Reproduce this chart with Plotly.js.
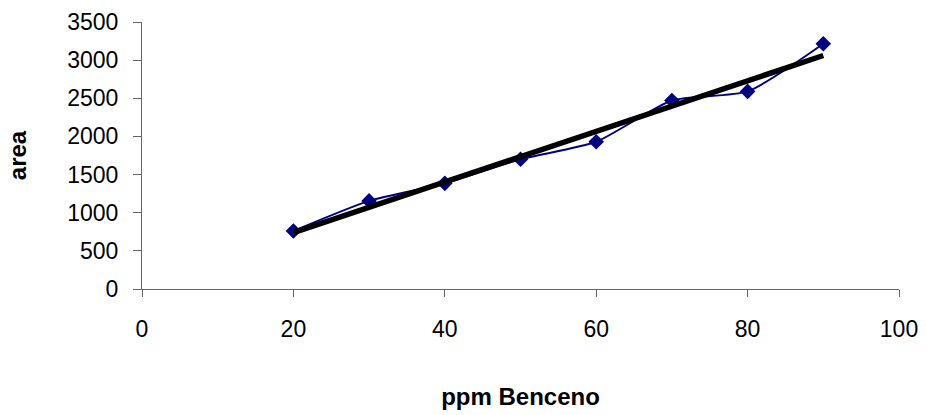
<!DOCTYPE html>
<html>
<head>
<meta charset="utf-8">
<script src="https://cdn.plot.ly/plotly-3.0.1.min.js"></script>
<style>html,body{margin:0;padding:0;background:#fff;}#chart{width:926px;height:415px;}</style>
</head>
<body>
<div id="chart"></div>
<script>
const ppm = [20, 30, 40, 50, 60, 70, 80, 90];
const area = [760, 1155, 1385, 1700, 1930, 2470, 2590, 3215];
const xTicks = [0, 20, 40, 60, 80, 100];
const yTicks = [0, 500, 1000, 1500, 2000, 2500, 3000, 3500];

// linear least-squares trendline computed from the data
const n = ppm.length;
const mx = ppm.reduce((a, b) => a + b, 0) / n;
const my = area.reduce((a, b) => a + b, 0) / n;
let sxy = 0, sxx = 0;
for (let i = 0; i < n; i++) { sxy += (ppm[i] - mx) * (area[i] - my); sxx += (ppm[i] - mx) ** 2; }
const slope = sxy / sxx, intercept = my - slope * mx;
const trendX = [ppm[0], ppm[n - 1]];
const trendY = trendX.map(x => intercept + slope * x);

const font = "Liberation Sans, Arial, sans-serif";
const data = [
  {
    x: ppm, y: area, type: 'scatter', mode: 'lines+markers',
    line: {color: '#000080', width: 2, shape: 'spline', smoothing: 0.6},
    marker: {symbol: 'diamond', size: 12, color: '#000080'},
    hoverinfo: 'x+y'
  },
  {
    x: trendX, y: trendY, type: 'scatter', mode: 'lines',
    line: {color: '#000000', width: 5.5}
  }
];
const layout = {
  width: 926, height: 415,
  margin: {l: 142, r: 27, t: 22, b: 126},
  showlegend: false,
  paper_bgcolor: '#fff', plot_bgcolor: '#fff',
  font: {family: font, size: 23, color: '#000'},
  xaxis: {
    range: [0, 100], tickvals: xTicks, ticktext: xTicks.map(String),
    showgrid: false, zeroline: false, showline: true, linecolor: '#666', linewidth: 1,
    ticks: 'outside', ticklen: 7, tickcolor: '#666', tickwidth: 1,
    ticklabelstandoff: 12,
    title: {text: 'ppm Benceno', font: {family: font, size: 24, weight: 'bold'}, standoff: 47},
    automargin: false, fixedrange: true
  },
  yaxis: {
    range: [0, 3500], tickvals: yTicks, ticktext: yTicks.map(String),
    showgrid: false, zeroline: false, showline: true, linecolor: '#666', linewidth: 1,
    ticks: 'outside', ticklen: 8, tickcolor: '#666', tickwidth: 1,
    ticklabelstandoff: 10,
    title: {text: 'area', font: {family: font, size: 24, weight: 'bold'}, standoff: 33},
    automargin: false, fixedrange: true
  }
};
Plotly.newPlot('chart', data, layout, {displayModeBar: false, staticPlot: true});
</script>
</body>
</html>
